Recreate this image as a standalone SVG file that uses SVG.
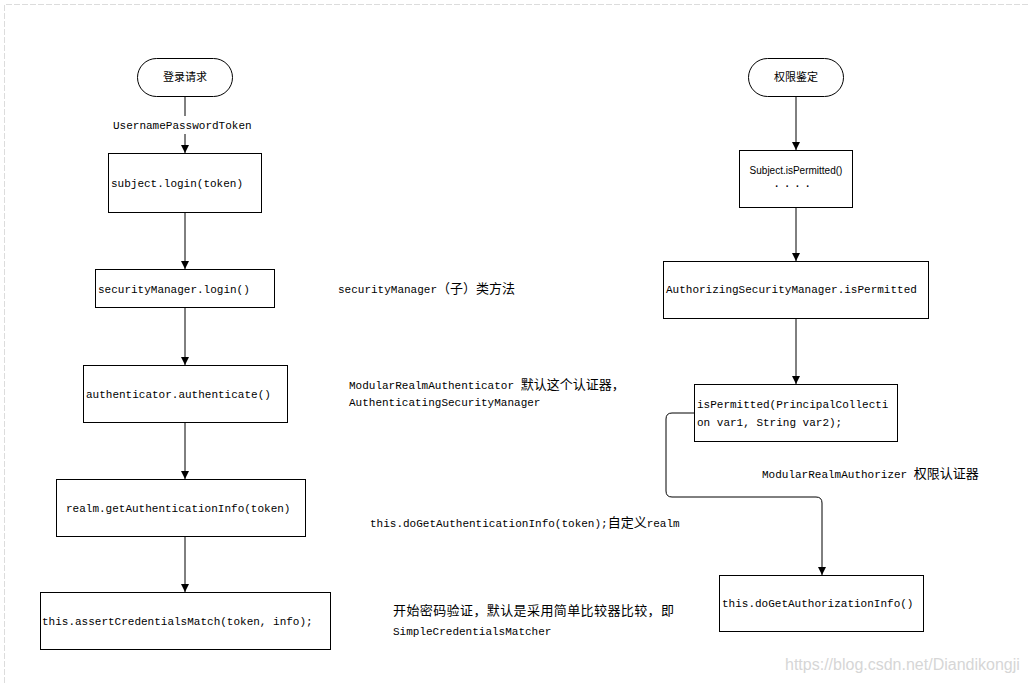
<svg xmlns="http://www.w3.org/2000/svg" width="1029" height="683" viewBox="0 0 1029 683">
<defs>
<marker id="arr" viewBox="0 0 8 10" refX="8" refY="5" markerWidth="8" markerHeight="10" markerUnits="userSpaceOnUse" orient="auto">
<path d="M0,1 L8,5 L0,9 z" fill="#000"/>
</marker>
</defs>
<style>
.box{fill:#fff;stroke:#000;stroke-width:1}
.term{fill:#fff;stroke:#000;stroke-width:1}
.code{font-family:"Liberation Mono","Noto Sans CJK SC",monospace;font-size:11px;fill:#000}
.cjk{font-family:"Noto Sans CJK SC",sans-serif;font-size:13px}
.tt{font-family:"Noto Sans CJK SC","Noto Sans",sans-serif;font-size:11px;fill:#000}
.sans{font-family:"Liberation Sans",Arial,sans-serif;font-size:10px;fill:#000}
.edge{fill:none;stroke:#000;stroke-width:1;marker-end:url(#arr)}
.line{fill:none;stroke:#000;stroke-width:1}
</style>
<rect x="0" y="0" width="1029" height="683" fill="#fff"/>
<path d="M4.5,683 V4.5 H1029" fill="none" stroke="#dcdcdc" stroke-width="1" stroke-dasharray="6,2"/>

<g id="connectors">
<line class="line" x1="185" y1="96" x2="185" y2="116"/>
<line class="edge" x1="185" y1="134" x2="185" y2="153"/>
<line class="edge" x1="185" y1="213" x2="185" y2="269"/>
<line class="edge" x1="185" y1="308" x2="185" y2="365"/>
<line class="edge" x1="185" y1="423" x2="185" y2="479"/>
<line class="edge" x1="185" y1="537" x2="185" y2="592"/>
<line class="edge" x1="796" y1="96" x2="796" y2="150"/>
<line class="edge" x1="796" y1="207" x2="796" y2="261"/>
<line class="edge" x1="796" y1="318" x2="796" y2="384"/>
<path class="edge" d="M694,413 H672 Q666,413 666,419 V491 Q666,497 672,497 H816 Q822,497 822,503 V575"/>
</g>

<g id="login-request">
<rect class="term" x="137.5" y="58.5" width="95" height="38" rx="19" ry="19"/>
<text class="tt" x="185" y="81" text-anchor="middle">登录请求</text>
</g>
<text id="label-token" class="code" x="113" y="129">UsernamePasswordToken</text>

<g id="subject-login">
<rect class="box" x="108.5" y="153.5" width="153" height="59"/>
<text class="code" x="111" y="187">subject.login(token)</text>
</g>

<g id="security-manager-login">
<rect class="box" x="95.5" y="269.5" width="179" height="38"/>
<text class="code" x="98" y="293">securityManager.login()</text>
</g>

<g id="authenticator-authenticate">
<rect class="box" x="83.5" y="365.5" width="204" height="57"/>
<text class="code" x="86" y="398">authenticator.authenticate()</text>
</g>

<g id="realm-getinfo">
<rect class="box" x="56.5" y="479.5" width="249" height="57"/>
<text class="code" x="66" y="512">realm.getAuthenticationInfo(token)</text>
</g>

<g id="assert-credentials">
<rect class="box" x="40.5" y="592.5" width="290" height="57"/>
<text class="code" x="42" y="625">this.assertCredentialsMatch(token, info);</text>
</g>

<g id="notes-left">
<text class="code" x="338" y="293">securityManager<tspan class="cjk">（子）类方法</tspan></text>
<text class="code" x="349" y="389">ModularRealmAuthenticator <tspan class="cjk">默认这个认证器，</tspan></text>
<text class="code" x="349" y="406">AuthenticatingSecurityManager</text>
<text class="code" x="370" y="527">this.doGetAuthenticationInfo(token);<tspan class="cjk">自定义</tspan>realm</text>
<text class="code" x="393" y="615"><tspan class="cjk" letter-spacing="0.4">开始密码验证，默认是采用简单比较器比较，即</tspan></text>
<text class="code" x="393" y="635">SimpleCredentialsMatcher</text>
</g>

<g id="permission-check">
<rect class="term" x="748.5" y="58.5" width="95" height="38" rx="19" ry="19"/>
<text class="tt" x="796" y="81" text-anchor="middle">权限鉴定</text>
</g>

<g id="subject-ispermitted">
<rect class="box" x="739.5" y="150.5" width="113" height="57"/>
<text class="sans" x="796" y="174" text-anchor="middle">Subject.isPermitted()</text>
<text class="sans" x="796" y="190" text-anchor="middle" font-weight="bold" letter-spacing="7">····</text>
</g>

<g id="authorizing-sm">
<rect class="box" x="663.5" y="261.5" width="265" height="57"/>
<text class="code" x="666" y="293">AuthorizingSecurityManager.isPermitted</text>
</g>

<g id="ispermitted-principal">
<rect class="box" x="694.5" y="384.5" width="203" height="57"/>
<text class="code" x="697" y="408">isPermitted(PrincipalCollecti</text>
<text class="code" x="697" y="426">on var1, String var2);</text>
</g>

<text id="note-authorizer" class="code" x="762" y="478">ModularRealmAuthorizer <tspan class="cjk">权限认证器</tspan></text>

<g id="do-get-authorization">
<rect class="box" x="719.5" y="575.5" width="204" height="56"/>
<text class="code" x="722" y="607">this.doGetAuthorizationInfo()</text>
</g>

<text id="watermark" x="785" y="670" font-family="Liberation Sans,Arial,sans-serif" font-size="16" fill="#d6d6d6">https://blog.csdn.net/Diandikongji</text>
</svg>
